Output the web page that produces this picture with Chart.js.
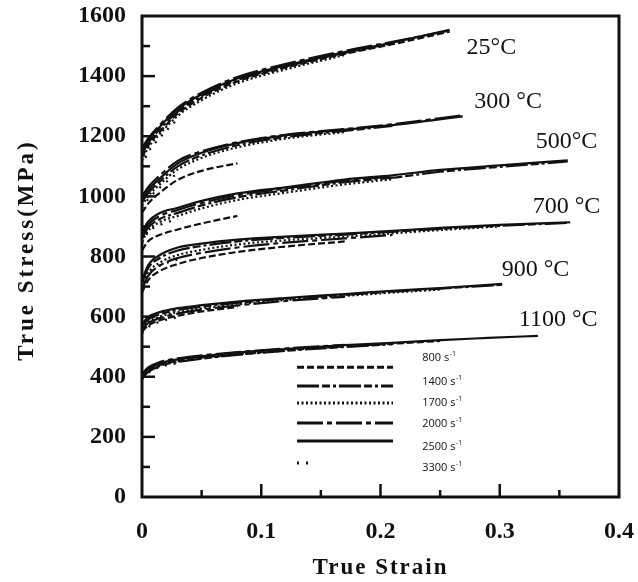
<!DOCTYPE html>
<html>
<head>
<meta charset="utf-8">
<script src="https://cdn.jsdelivr.net/npm/chart.js@4.4.0/dist/chart.umd.min.js"></script>
<style>
  html, body { margin: 0; padding: 0; background: #fff; }
  #grafico { display: block; }
</style>
</head>
<body>
<canvas id="grafico" width="638" height="582"></canvas>
<script>
// velocidades de deformacion (orden de la leyenda)
const rates = ['800', '1400', '1700', '2000', '2500', '3300'];

// temperaturas y sus rotulos
const tempLabels = ['25°C', '300 °C', '500°C', '700 °C', '900 °C', '1100 °C'];
const labelStrain = [0.293, 0.307, 0.356, 0.356, 0.330, 0.349];
const labelStress = [1494, 1314, 1181, 965, 755, 589];

// deformacion (eje x) por temperatura
const strain25 = [0, 0.005, 0.015, 0.03, 0.05, 0.08, 0.12, 0.17, 0.21, 0.258];
const strain300 = [0, 0.005, 0.015, 0.03, 0.05, 0.08, 0.12, 0.17, 0.21, 0.269];
const strain500 = [0, 0.005, 0.015, 0.03, 0.05, 0.08, 0.12, 0.17, 0.21, 0.25, 0.3, 0.357];
const strain700 = [0, 0.005, 0.015, 0.03, 0.05, 0.08, 0.12, 0.17, 0.21, 0.25, 0.3, 0.359];
const strain900 = [0, 0.005, 0.015, 0.03, 0.05, 0.08, 0.12, 0.17, 0.21, 0.25, 0.302];
const strain1100 = [0, 0.005, 0.015, 0.03, 0.05, 0.08, 0.12, 0.17, 0.21, 0.25, 0.29, 0.332];

// esfuerzo (MPa), una fila por velocidad: 800, 1400, 1700, 2000, 2500, 3300
const stress25 = [
  [1130, 1168, 1215, 1275, 1328, 1382, 1428, 1474, 1506, 1548],
  [1140, 1176, 1224, 1282, 1334, 1387, 1431, 1477, 1509],
  [1120, 1160, 1208, 1268, 1320, 1376, 1422, 1470],
  [1160, 1192, 1238, 1295, 1345, 1397, 1440, 1484, 1514, 1552],
  [1150, 1185, 1232, 1290, 1340, 1392, 1435, 1480, 1512, 1554],
  [1100, 1145, 1195, 1258]
];
const stress300 = [
  [945, 975, 1012, 1055, 1085, 1110],
  [980, 1010, 1050, 1100, 1136, 1170, 1197, 1218, 1234],
  [970, 1000, 1040, 1090, 1128, 1163, 1192, 1214],
  [1000, 1030, 1070, 1118, 1150, 1180, 1205, 1224, 1240, 1270],
  [990, 1020, 1060, 1110, 1145, 1177, 1203, 1222, 1237, 1266],
  [960, 990, 1030, 1078]
];
const stress500 = [
  [820, 850, 872, 890, 910, 935],
  [860, 895, 925, 945, 970, 997, 1020, 1047, 1062, 1082, 1098, 1116],
  [850, 885, 915, 935, 960, 988, 1012, 1040, 1057],
  [870, 905, 935, 955, 978, 1004, 1026, 1052, 1066],
  [880, 915, 945, 962, 985, 1010, 1030, 1056, 1070, 1088, 1103, 1120],
  [845, 880, 905, 925]
];
const stress700 = [
  [680, 720, 752, 775, 795, 815, 833, 850],
  [710, 760, 795, 820, 835, 850, 862, 873, 882, 892, 902, 912],
  [700, 745, 780, 805, 822, 840, 854, 866, 877, 888, 900],
  [690, 735, 770, 795, 812, 830, 846, 860, 872],
  [720, 770, 805, 830, 843, 856, 866, 876, 885, 895, 905, 914],
  [700, 740, 770, 790]
];
const stress900 = [
  [550, 570, 588, 603, 617, 632],
  [565, 590, 608, 622, 633, 646, 659, 672, 683, 693, 706],
  [560, 583, 600, 615, 627, 641, 655, 669, 680, 690],
  [555, 578, 595, 610, 623, 637, 652, 666],
  [575, 598, 615, 628, 638, 650, 662, 675, 686, 695, 709],
  [545, 565, 583, 598]
];
const stress1100 = [
  [400, 420, 440, 453, 464, 476, 488, 501, 510, 519],
  [395, 415, 436, 449, 460, 473, 486, 499, 508],
  [398, 418, 438, 451, 462, 474, 487],
  [410, 430, 449, 461, 471, 482, 494, 506],
  [405, 425, 445, 458, 468, 480, 492, 505, 513, 522, 529, 536],
  [392, 412, 432, 446]
];

// ejes
const xTicks = [0, 0.1, 0.2, 0.3, 0.4];
const yTicks = [0, 200, 400, 600, 800, 1000, 1200, 1400, 1600];

// leyenda: posicion de cada fila en unidades de datos
const legendLineX = [0.130, 0.2105];
const legendTextX = 0.235;
const legendLineY = [432, 369, 313, 246, 186, 113];
const legendTextY = [462, 383, 313, 243, 166, 96];

// estilos de linea por velocidad
const dashes = [[7, 3], [22, 3, 8, 3, 3, 3], [2, 2.5], [26, 4, 5, 4], [], [2, 7]];

const strainSets = [strain25, strain300, strain500, strain700, strain900, strain1100];
const stressSets = [stress25, stress300, stress500, stress700, stress900, stress1100];

let datasets = [];
stressSets.forEach(function(filas, ti) {
  filas.forEach(function(valores, ri) {
    datasets.push({
      label: tempLabels[ti] + ' ' + rates[ri],
      data: valores.map(function(v, k) { return {x: strainSets[ti][k], y: v}; }),
      borderColor: '#111',
      borderWidth: 2.2,
      borderDash: dashes[ri],
      pointRadius: 0,
      fill: false,
      cubicInterpolationMode: 'monotone'
    });
  });
});

const serif = '"Liberation Serif", "Times New Roman", serif';

// marco, marcas hacia adentro, rotulos, leyenda y titulos
const decorado = {
  id: 'decorado',
  afterDraw(chart) {
    const ctx = chart.ctx;
    const a = chart.chartArea;
    const x = chart.scales.x, y = chart.scales.y;
    ctx.save();
    ctx.strokeStyle = '#111';
    ctx.fillStyle = '#111';
    ctx.setLineDash([]);
    ctx.lineWidth = 3;
    ctx.strokeRect(a.left, a.top, a.right - a.left, a.bottom - a.top);

    ctx.lineWidth = 2.5;
    for (let v = 100; v < 1600; v += 100) {
      const py = y.getPixelForValue(v);
      const len = v % 200 === 0 ? 13 : 8;
      ctx.beginPath(); ctx.moveTo(a.left, py); ctx.lineTo(a.left + len, py); ctx.stroke();
    }
    for (let i = 1; i < 8; i++) {
      const px = x.getPixelForValue(i * 0.05);
      const len = i % 2 === 0 ? 13 : 7;
      ctx.beginPath(); ctx.moveTo(px, a.bottom); ctx.lineTo(px, a.bottom - len); ctx.stroke();
    }

    // rotulos de temperatura
    ctx.font = '24px ' + serif;
    ctx.textAlign = 'center';
    ctx.textBaseline = 'middle';
    tempLabels.forEach(function(t, i) {
      ctx.fillText(t, x.getPixelForValue(labelStrain[i]), y.getPixelForValue(labelStress[i]));
    });

    // leyenda
    rates.forEach(function(r, i) {
      const py = y.getPixelForValue(legendLineY[i]);
      const x0 = x.getPixelForValue(legendLineX[0]);
      const x1 = i === 5 ? x0 + 16 : x.getPixelForValue(legendLineX[1]);
      ctx.lineWidth = 3;
      ctx.setLineDash(dashes[i]);
      ctx.beginPath(); ctx.moveTo(x0, py); ctx.lineTo(x1, py); ctx.stroke();
      ctx.setLineDash([]);
      const tx = x.getPixelForValue(legendTextX);
      const ty = y.getPixelForValue(legendTextY[i]);
      ctx.textAlign = 'left';
      ctx.font = '11px "Open Sans", sans-serif';
      const base = r + ' s';
      ctx.fillText(base, tx, ty);
      const w = ctx.measureText(base).width;
      ctx.font = '7px "Open Sans", sans-serif';
      ctx.fillText('-1', tx + w + 0.5, ty - 4);
    });

    // titulos de ejes
    ctx.font = 'bold 23px ' + serif;
    ctx.textAlign = 'center';
    ctx.letterSpacing = '2px';
    ctx.fillText('True Strain', (a.left + a.right) / 2, 568);
    ctx.translate(27, 250);
    ctx.rotate(-Math.PI / 2);
    ctx.letterSpacing = '3px';
    ctx.fillText('True Stress(MPa)', 0, 0);
    ctx.restore();
  }
};

let grafico = new Chart(document.getElementById('grafico'), {
  type: 'line',
  data: { datasets: datasets },
  options: {
    responsive: false,
    animation: false,
    layout: { padding: { top: 16, right: 19, left: 0, bottom: 0 } },
    plugins: { legend: { display: false }, tooltip: { enabled: false } },
    scales: {
      x: {
        type: 'linear',
        min: 0,
        max: 0.4,
        afterFit: function(s) { s.height = 85; s.paddingLeft = 0; s.paddingRight = 0; },
        afterBuildTicks: function(s) { s.ticks = xTicks.map(function(v) { return {value: v}; }); },
        grid: { display: false, drawTicks: false },
        border: { display: false },
        ticks: {
          padding: 20,
          color: '#111',
          font: { family: serif, size: 24, weight: 'bold' },
          callback: function(v) { return v === 0 ? '0' : v.toFixed(1); }
        }
      },
      y: {
        min: 0,
        max: 1600,
        afterFit: function(s) { s.width = 142; s.paddingTop = 0; s.paddingBottom = 0; },
        afterBuildTicks: function(s) { s.ticks = yTicks.map(function(v) { return {value: v}; }); },
        grid: { display: false, drawTicks: false },
        border: { display: false },
        ticks: {
          padding: 16,
          color: '#111',
          font: { family: serif, size: 24, weight: 'bold' },
          callback: function(v) { return String(v); }
        }
      }
    }
  },
  plugins: [decorado]
});
</script>
</body>
</html>
